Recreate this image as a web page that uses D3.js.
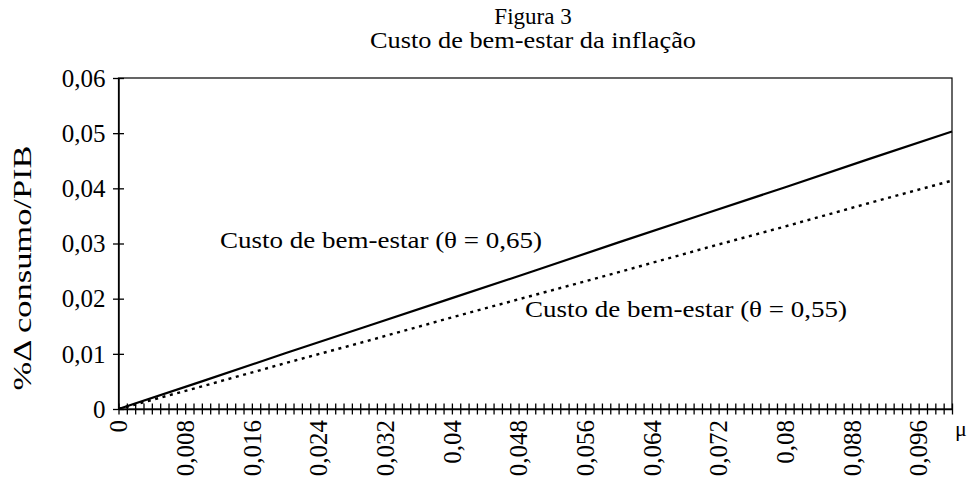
<!DOCTYPE html>
<html>
<head>
<meta charset="utf-8">
<script src="https://cdn.jsdelivr.net/npm/d3@7"></script>
<style>
body{margin:0;background:#fff;}
text{font-family:"Liberation Serif","Times New Roman",serif;fill:#000;}
</style>
</head>
<body>
<script>
// data
var mu = [0, 0.01, 0.02, 0.03, 0.04, 0.05, 0.06, 0.07, 0.08, 0.09, 0.1];
var custo065 = [0, 0.0050, 0.0101, 0.0151, 0.0201, 0.0251, 0.0302, 0.0352, 0.0402, 0.0453, 0.0503];
var custo055 = [0, 0.0041, 0.0083, 0.0124, 0.0166, 0.0207, 0.0248, 0.0290, 0.0331, 0.0373, 0.0414];
var yTicks = [0, 0.01, 0.02, 0.03, 0.04, 0.05, 0.06];
var yTickLabels = ["0", "0,01", "0,02", "0,03", "0,04", "0,05", "0,06"];
var xTickLabels = ["0", "0,008", "0,016", "0,024", "0,032", "0,04", "0,048", "0,056", "0,064", "0,072", "0,08", "0,088", "0,096"];
var xStep = 0.001, xLabelEvery = 8;

var width = 970, height = 480;
// note: "top" is taken by window.top, so plot edges get their own names
var plotLeft = 118.5, plotRight = 952, plotTop = 78, plotBottom = 409;

var svg = d3.select("body").append("svg")
	.attr("width", width)
	.attr("height", height);

var x = d3.scaleLinear().domain([0, 0.1]).range([plotLeft, plotRight]);
var y = d3.scaleLinear().domain([0, 0.06]).range([plotBottom, plotTop]);

// frame
svg.append("rect")
	.attr("x", plotLeft).attr("y", plotTop)
	.attr("width", plotRight - plotLeft).attr("height", plotBottom - plotTop)
	.attr("fill", "none").attr("stroke", "#000").attr("stroke-width", 1.2);

// x axis, tick at every category, label every 8
var xTicks = d3.range(0, 101).map(function(i){ return i * xStep; });
var xAxis = d3.axisBottom(x)
	.tickValues(xTicks)
	.tickSize(0)
	.tickFormat(function(d, i){ return i % xLabelEvery === 0 ? xTickLabels[i / xLabelEvery] : ""; });
var gx = svg.append("g").attr("transform", "translate(0," + plotBottom + ")").call(xAxis)
	.attr("font-family", null).attr("font-size", 25);
gx.select(".domain").attr("stroke", "#000").attr("stroke-width", 1.5);
gx.selectAll(".tick").append("line")
	.attr("y1", -5.5).attr("y2", 5.5)
	.attr("stroke", "#000").attr("stroke-width", 1.3);
gx.selectAll(".tick text")
	.attr("transform", "rotate(-90)")
	.attr("text-anchor", "end")
	.attr("x", -11).attr("y", 0).attr("dy", "0.33em");

// y axis
var yAxis = d3.axisLeft(y)
	.tickValues(yTicks)
	.tickSize(0)
	.tickFormat(function(d, i){ return yTickLabels[i]; });
var gy = svg.append("g").attr("transform", "translate(" + plotLeft + ",0)").call(yAxis)
	.attr("font-family", null).attr("font-size", 25);
gy.select(".domain").attr("stroke", "#000").attr("stroke-width", 1.5);
gy.selectAll(".tick").append("line")
	.attr("x1", -5.5).attr("x2", 5.5)
	.attr("stroke", "#000").attr("stroke-width", 1.3);
gy.selectAll(".tick text")
	.attr("x", -13).attr("dy", "0.33em");

// series
var costLine = d3.line().x(function(d, i){ return x(mu[i]); }).y(function(d){ return y(d); });
svg.append("path").datum(custo065)
	.attr("d", costLine)
	.attr("fill", "none").attr("stroke", "#000").attr("stroke-width", 2.2);
svg.append("path").datum(custo055)
	.attr("d", costLine)
	.attr("fill", "none").attr("stroke", "#000").attr("stroke-width", 2.4)
	.attr("stroke-dasharray", "3,4.6");

// titles and labels (the scan is a little stretched, so widths are fixed)
svg.append("text").attr("x", 533).attr("y", 24).attr("text-anchor", "middle")
	.attr("font-size", 23).text("Figura 3");
svg.append("text").attr("x", 533).attr("y", 48).attr("text-anchor", "middle")
	.attr("font-size", 23)
	.attr("textLength", 326).attr("lengthAdjust", "spacingAndGlyphs")
	.text("Custo de bem-estar da inflação");
svg.append("text").attr("x", 220).attr("y", 248)
	.attr("font-size", 23)
	.attr("textLength", 322).attr("lengthAdjust", "spacingAndGlyphs")
	.text("Custo de bem-estar (θ = 0,65)");
svg.append("text").attr("x", 525).attr("y", 317)
	.attr("font-size", 23)
	.attr("textLength", 322).attr("lengthAdjust", "spacingAndGlyphs")
	.text("Custo de bem-estar (θ = 0,55)");
svg.append("text").attr("x", 961).attr("y", 436).attr("text-anchor", "middle")
	.attr("font-size", 22).text("μ");
svg.append("text")
	.attr("transform", "translate(31,268) rotate(-90)")
	.attr("text-anchor", "middle")
	.attr("font-size", 26)
	.attr("textLength", 245).attr("lengthAdjust", "spacingAndGlyphs")
	.text("%Δ consumo/PIB");
</script>
</body>
</html>
